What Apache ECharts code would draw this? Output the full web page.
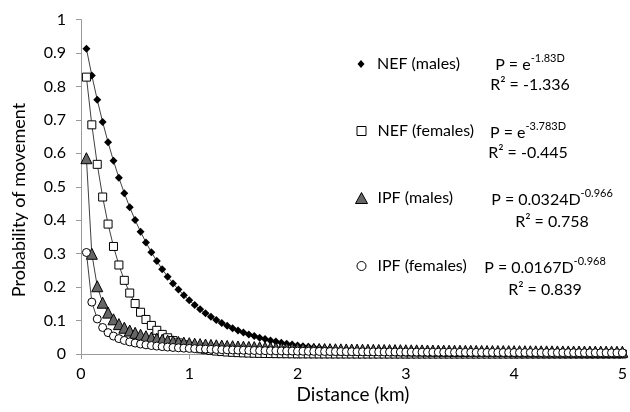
<!DOCTYPE html>
<html>
<head>
<meta charset="utf-8">
<script src="https://cdn.jsdelivr.net/npm/echarts@6/dist/echarts.min.js"></script>
<style>html,body{margin:0;padding:0;background:#fff}#c{width:630px;height:412px}</style>
</head>
<body>
<div id="c"></div>
<script>
var distance = [
0.05,0.10,0.15,0.20,0.25,0.30,0.35,0.40,0.45,0.50,
0.55,0.60,0.65,0.70,0.75,0.80,0.85,0.90,0.95,1.00,
1.05,1.10,1.15,1.20,1.25,1.30,1.35,1.40,1.45,1.50,
1.55,1.60,1.65,1.70,1.75,1.80,1.85,1.90,1.95,2.00,
2.05,2.10,2.15,2.20,2.25,2.30,2.35,2.40,2.45,2.50,
2.55,2.60,2.65,2.70,2.75,2.80,2.85,2.90,2.95,3.00,
3.05,3.10,3.15,3.20,3.25,3.30,3.35,3.40,3.45,3.50,
3.55,3.60,3.65,3.70,3.75,3.80,3.85,3.90,3.95,4.00,
4.05,4.10,4.15,4.20,4.25,4.30,4.35,4.40,4.45,4.50,
4.55,4.60,4.65,4.70,4.75,4.80,4.85,4.90,4.95,5.00];

var nefMales = [
0.9126,0.8328,0.7600,0.6935,0.6329,0.5775,0.5270,0.4809,0.4389,0.4005,
0.3655,0.3335,0.3044,0.2778,0.2535,0.2313,0.2111,0.1926,0.1758,0.1604,
0.1464,0.1336,0.1219,0.1113,0.1015,0.0927,0.0845,0.0772,0.0704,0.0642,
0.0586,0.0535,0.0488,0.0445,0.0406,0.0371,0.0338,0.0309,0.0282,0.0257,
0.0235,0.0214,0.0195,0.0178,0.0163,0.0148,0.0135,0.0124,0.0113,0.0103,
0.0094,0.0086,0.0078,0.0071,0.0065,0.0059,0.0054,0.0049,0.0045,0.0041,
0.0038,0.0034,0.0031,0.0029,0.0026,0.0024,0.0022,0.0020,0.0018,0.0017,
0.0015,0.0014,0.0013,0.0012,0.0011,0.0010,0.0009,0.0008,0.0007,0.0007,
0.0006,0.0005,0.0005,0.0004,0.0004,0.0004,0.0003,0.0003,0.0003,0.0003,
0.0002,0.0002,0.0002,0.0002,0.0002,0.0001,0.0001,0.0001,0.0001,0.0001];

var nefFemales = [
0.8277,0.6851,0.5670,0.4693,0.3884,0.3215,0.2661,0.2202,0.1823,0.1508,
0.1248,0.1033,0.0855,0.0708,0.0586,0.0485,0.0401,0.0332,0.0275,0.0228,
0.0188,0.0156,0.0129,0.0107,0.0088,0.0073,0.0060,0.0050,0.0041,0.0034,
0.0028,0.0023,0.0019,0.0016,0.0013,0.0011,0.0009,0.0008,0.0006,0.0005,
0.0004,0.0004,0.0003,0.0002,0.0002,0.0002,0.0001,0.0001,0.0001,0.0001,
0,0,0,0,0,0,0,0,0,0,
0,0,0,0,0,0,0,0,0,0,
0,0,0,0,0,0,0,0,0,0,
0,0,0,0,0,0,0,0,0,0,
0,0,0,0,0,0,0,0,0,0];

var ipfMales = [
0.5853,0.2996,0.2025,0.1534,0.1237,0.1037,0.0893,0.0785,0.0701,0.0633,
0.0577,0.0531,0.0491,0.0457,0.0428,0.0402,0.0379,0.0359,0.0340,0.0324,
0.0309,0.0295,0.0283,0.0272,0.0261,0.0251,0.0242,0.0234,0.0226,0.0219,
0.0212,0.0206,0.0200,0.0194,0.0189,0.0184,0.0179,0.0174,0.0170,0.0166,
0.0162,0.0158,0.0155,0.0151,0.0148,0.0145,0.0142,0.0139,0.0136,0.0134,
0.0131,0.0129,0.0127,0.0124,0.0122,0.0120,0.0118,0.0116,0.0114,0.0112,
0.0110,0.0109,0.0107,0.0105,0.0104,0.0102,0.0101,0.0099,0.0098,0.0097,
0.0095,0.0094,0.0093,0.0092,0.0090,0.0089,0.0088,0.0087,0.0086,0.0085,
0.0084,0.0083,0.0082,0.0081,0.0080,0.0079,0.0079,0.0078,0.0077,0.0076,
0.0075,0.0075,0.0074,0.0073,0.0072,0.0072,0.0071,0.0070,0.0069,0.0068];

var ipfFemales = [
0.3035,0.1551,0.1048,0.0793,0.0639,0.0536,0.0461,0.0405,0.0362,0.0327,
0.0298,0.0274,0.0253,0.0236,0.0221,0.0207,0.0195,0.0185,0.0175,0.0167,
0.0159,0.0152,0.0146,0.0140,0.0135,0.0129,0.0125,0.0121,0.0116,0.0113,
0.0109,0.0106,0.0103,0.0100,0.0097,0.0095,0.0092,0.0090,0.0088,0.0085,
0.0083,0.0081,0.0080,0.0078,0.0076,0.0075,0.0073,0.0072,0.0070,0.0069,
0.0067,0.0066,0.0065,0.0064,0.0063,0.0062,0.0061,0.0060,0.0059,0.0058,
0.0057,0.0056,0.0055,0.0054,0.0053,0.0053,0.0052,0.0051,0.0050,0.0050,
0.0049,0.0048,0.0048,0.0047,0.0046,0.0046,0.0045,0.0045,0.0044,0.0044,
0.0043,0.0043,0.0042,0.0042,0.0041,0.0041,0.0040,0.0040,0.0040,0.0039,
0.0039,0.0038,0.0038,0.0038,0.0037,0.0037,0.0036,0.0036,0.0036,0.0035];

var seriesNames = ['NEF (males)', 'NEF (females)', 'IPF (males)', 'IPF (females)'];
var eqBase = ['P = e', 'P = e', 'P = 0.0324D', 'P = 0.0167D'];
var eqExp = ['-1.83D', '-3.783D', '-0.966', '-0.968'];
var rSquared = ['R² = -1.336', 'R² = -0.445', 'R² = 0.758', 'R² = 0.839'];
var xTicks = [0, 1, 2, 3, 4, 5];

var FONT = 'Lato, "Open Sans", sans-serif';

function pairs(ys) { return distance.map(function (d, i) { return [d, ys[i]]; }); }

var styles = [
  { symbol: 'diamond', size: 8, color: '#000', border: '#000', bw: 0, legendW: 7, legendH: 8 },
  { symbol: 'rect', size: 8, color: '#fff', border: '#000', bw: 1, legendW: 9, legendH: 9 },
  { symbol: 'triangle', size: 11, color: '#666666', border: '#000', bw: 1, legendW: 12, legendH: 11 },
  { symbol: 'circle', size: 8, color: '#fff', border: '#000', bw: 1, legendW: 9, legendH: 9 }
];
var dataSets = [nefMales, nefFemales, ipfMales, ipfFemales];
var legendCenters = [66, 133, 200, 268];
var eqCenters = [[530, 65, 85], [528, 133, 153], [552, 200, 222], [545, 268, 290]];

var series = seriesNames.map(function (n, k) {
  var s = styles[k];
  return {
    name: n, type: 'line', data: pairs(dataSets[k]),
    symbol: s.symbol, symbolSize: s.size, showAllSymbol: true,
    smooth: false,
    lineStyle: { color: '#404040', width: 1 },
    itemStyle: { color: s.color, borderColor: s.border, borderWidth: s.bw },
    emphasis: { disabled: true },
    z: 2 + k
  };
});

var legends = seriesNames.map(function (n, k) {
  var s = styles[k];
  return {
    data: [{ name: n, icon: s.symbol, itemStyle: { color: s.color, borderColor: s.border, borderWidth: s.bw } }],
    left: 361 - s.legendW / 2, top: legendCenters[k] - 10,
    itemWidth: s.legendW, itemHeight: s.legendH, itemGap: 0, padding: 0,
    selectedMode: false,
    textStyle: { fontFamily: FONT, fontSize: 16, color: '#000', padding: [0, 0, 0, 6 - s.legendW / 2 + 5] }
  };
});

var graphics = [];
seriesNames.forEach(function (n, k) {
  var c = eqCenters[k];
  graphics.push({
    type: 'text', x: c[0], y: c[1],
    style: {
      text: '{b|' + eqBase[k] + '}{s|' + eqExp[k] + '}',
      align: 'center', verticalAlign: 'middle',
      rich: {
        b: { fontFamily: FONT, fontSize: 16, lineHeight: 24, fill: '#000', color: '#000', verticalAlign: 'middle' },
        s: { fontFamily: FONT, fontSize: 11, lineHeight: 10, fill: '#000', color: '#000', verticalAlign: 'top' }
      }
    }
  });
  graphics.push({
    type: 'text', x: c[0], y: c[2],
    style: { text: rSquared[k], align: 'center', verticalAlign: 'middle', font: '16px ' + FONT, fill: '#000' }
  });
});
graphics.push({
  type: 'text', x: 19, y: 200, rotation: Math.PI / 2,
  style: { text: 'Probability of movement', align: 'center', verticalAlign: 'middle', font: '18px ' + FONT, fill: '#000' }
});
graphics.push({
  type: 'text', x: 353, y: 395,
  style: { text: 'Distance (km)', align: 'center', verticalAlign: 'middle', font: '19px ' + FONT, fill: '#000' }
});

var chart = echarts.init(document.getElementById('c'), null, { renderer: 'canvas' });
chart.setOption({
  animation: false,
  backgroundColor: '#fff',
  grid: { left: 81, right: 3, top: 19.5, bottom: 58, containLabel: false },
  xAxis: {
    type: 'value', min: xTicks[0], max: xTicks[xTicks.length - 1], interval: 1,
    axisLine: { show: true, onZero: false, lineStyle: { color: '#9a9a9a', width: 1 } },
    axisTick: { show: true, length: 5, lineStyle: { color: '#9a9a9a' } },
    splitLine: { show: false },
    axisLabel: { fontFamily: FONT, fontSize: 16, color: '#000', margin: 12 }
  },
  yAxis: {
    type: 'value', min: 0, max: 1, interval: 0.1,
    axisLine: { show: true, lineStyle: { color: '#9a9a9a', width: 1 } },
    axisTick: { show: true, length: 5, lineStyle: { color: '#9a9a9a' } },
    splitLine: { show: false },
    axisLabel: { fontFamily: FONT, fontSize: 16, color: '#000', margin: 15 }
  },
  legend: legends,
  series: series,
  graphic: graphics
});
</script>
</body>
</html>
